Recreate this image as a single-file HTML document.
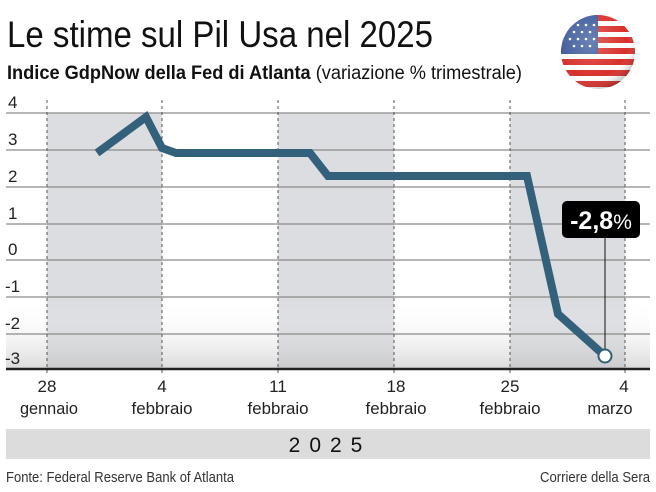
<!DOCTYPE html>
<html><head><meta charset="utf-8"><style>
html,body{margin:0;padding:0;background:#fff;width:656px;height:492px;overflow:hidden}
svg{display:block}
text{font-family:"Liberation Sans Narrow","Liberation Sans",sans-serif}
</style></head><body>
<svg width="656" height="492" viewBox="0 0 656 492" xmlns="http://www.w3.org/2000/svg">
<defs>
<linearGradient id="fade" x1="0" y1="0" x2="0" y2="1">
<stop offset="0" stop-color="#fff" stop-opacity="0"/>
<stop offset="1" stop-color="#b8b8b8" stop-opacity="0.5"/>
</linearGradient>
<clipPath id="fc"><circle cx="598" cy="52" r="37"/></clipPath>
<radialGradient id="shine" cx="0.4" cy="0.35" r="0.7">
<stop offset="0" stop-color="#fff" stop-opacity="0.25"/>
<stop offset="0.7" stop-color="#fff" stop-opacity="0"/>
<stop offset="1" stop-color="#000" stop-opacity="0.3"/>
</radialGradient>
</defs>
<text x="7" y="47" font-size="37" fill="#111" textLength="426" lengthAdjust="spacingAndGlyphs">Le stime sul Pil Usa nel 2025</text>
<text x="7" y="79" font-size="19" fill="#111" textLength="515" lengthAdjust="spacingAndGlyphs"><tspan font-weight="bold">Indice GdpNow della Fed di Atlanta</tspan> (variazione % trimestrale)</text>
<g clip-path="url(#fc)">
<rect x="561" y="15" width="74" height="74" fill="#fff"/>
<g fill="#d8302b">
<rect x="561" y="15" width="74" height="6"/><rect x="561" y="26" width="74" height="6"/><rect x="561" y="37" width="74" height="6"/><rect x="561" y="48" width="74" height="6"/><rect x="561" y="59" width="74" height="6"/><rect x="561" y="70" width="74" height="6"/><rect x="561" y="81" width="74" height="6"/>
</g>
<rect x="561" y="15" width="37" height="39" fill="#3d5a9c"/>
<g fill="#fff"><circle cx="570" cy="25" r="1.3"/><circle cx="578" cy="25" r="1.3"/><circle cx="586" cy="25" r="1.3"/><circle cx="594" cy="25" r="1.3"/><circle cx="574" cy="32" r="1.3"/><circle cx="582" cy="32" r="1.3"/><circle cx="590" cy="32" r="1.3"/><circle cx="570" cy="39" r="1.3"/><circle cx="578" cy="39" r="1.3"/><circle cx="586" cy="39" r="1.3"/><circle cx="594" cy="39" r="1.3"/><circle cx="574" cy="46" r="1.3"/><circle cx="582" cy="46" r="1.3"/><circle cx="590" cy="46" r="1.3"/></g>
<circle cx="598" cy="52" r="37" fill="url(#shine)"/>
</g>
<rect x="47" y="113" width="115" height="256" fill="#dcdde1"/>
<rect x="278" y="113" width="116" height="256" fill="#dcdde1"/>
<rect x="510" y="113" width="115" height="256" fill="#dcdde1"/>
<rect x="6" y="300" width="644" height="69" fill="url(#fade)"/>
<g stroke="#8a8a8a" stroke-width="1.2">
<line x1="6" y1="113" x2="650" y2="113"/><line x1="6" y1="150" x2="650" y2="150"/><line x1="6" y1="187" x2="650" y2="187"/><line x1="6" y1="224" x2="650" y2="224"/><line x1="6" y1="260" x2="650" y2="260"/><line x1="6" y1="297" x2="650" y2="297"/><line x1="6" y1="334" x2="650" y2="334"/>
</g>
<g stroke="#555" stroke-width="1" stroke-dasharray="3,3">
<line x1="47" y1="100" x2="47" y2="376"/><line x1="162" y1="100" x2="162" y2="376"/><line x1="278" y1="100" x2="278" y2="376"/><line x1="394" y1="100" x2="394" y2="376"/><line x1="510" y1="100" x2="510" y2="376"/><line x1="625" y1="100" x2="625" y2="376"/>
</g>
<line x1="6" y1="369" x2="650" y2="369" stroke="#222" stroke-width="2.5"/>
<g font-size="17" fill="#222">
<text x="8" y="108">4</text><text x="8" y="145">3</text><text x="8" y="182">2</text><text x="8" y="219">1</text><text x="8" y="255">0</text><text x="5" y="292">-1</text><text x="5" y="329">-2</text><text x="5" y="364">-3</text>
</g>
<polyline points="97,153 146,117 162,148 176,153 310,153 328,176 527,176 558,314 605,356" fill="none" stroke="#33607a" stroke-width="8" stroke-linejoin="miter"/>
<line x1="605" y1="238" x2="605" y2="356" stroke="#111" stroke-width="1"/>
<rect x="562" y="201" width="78" height="37" rx="5" fill="#000"/>
<text x="601" y="229" font-size="25" font-weight="bold" fill="#fff" text-anchor="middle">-2,8<tspan font-weight="normal" font-size="21">%</tspan></text>
<circle cx="605" cy="356" r="6.5" fill="#fff" stroke="#33607a" stroke-width="2"/>
<g font-size="17" fill="#222" text-anchor="middle">
<text x="47" y="392">28</text><text x="49" y="414" textLength="58" lengthAdjust="spacingAndGlyphs">gennaio</text>
<text x="162" y="392">4</text><text x="162" y="414" textLength="61" lengthAdjust="spacingAndGlyphs">febbraio</text>
<text x="278" y="392">11</text><text x="278" y="414" textLength="61" lengthAdjust="spacingAndGlyphs">febbraio</text>
<text x="396" y="392">18</text><text x="396" y="414" textLength="61" lengthAdjust="spacingAndGlyphs">febbraio</text>
<text x="510" y="392">25</text><text x="510" y="414" textLength="61" lengthAdjust="spacingAndGlyphs">febbraio</text>
<text x="624" y="392">4</text><text x="610" y="414" textLength="45" lengthAdjust="spacingAndGlyphs">marzo</text>
</g>
<rect x="6" y="429" width="644" height="30" fill="#dcdcdc"/>
<text x="330" y="452" font-size="21" fill="#111" text-anchor="middle" letter-spacing="9">2025</text>
<text x="6" y="482" font-size="15" fill="#333" textLength="228" lengthAdjust="spacingAndGlyphs">Fonte: Federal Reserve Bank of Atlanta</text>
<text x="540" y="482" font-size="15" fill="#333" textLength="110" lengthAdjust="spacingAndGlyphs">Corriere della Sera</text>
</svg>
</body></html>
